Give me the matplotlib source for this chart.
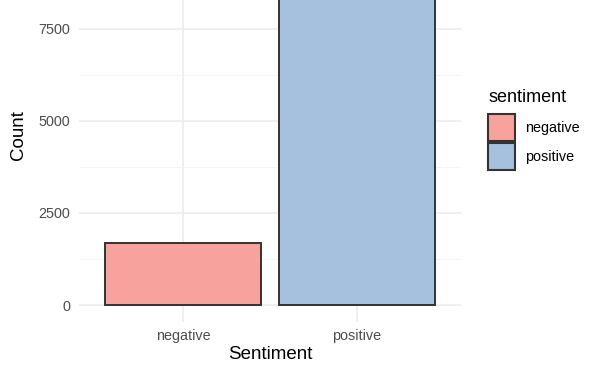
import numpy as np
import matplotlib.pyplot as plt
from matplotlib.patches import Patch

plt.rcParams['font.family'] = ['Liberation Sans', 'DejaVu Sans']

# Datos del gráfico
categorias = ['negative', 'positive']
conteos = [1690, 9240]
colores = ['#F7A29D', '#A6C1DD']
y_ticks = [0, 2500, 5000, 7500]
y_minor = [1250, 3750, 6250, 8750]

fig = plt.figure(figsize=(6, 3.75), dpi=100)
# el panel se sale por arriba (imagen recortada)
ax = fig.add_axes([0.131, 0.1413, 0.638, 0.9977])

x = np.arange(1, len(categorias) + 1)
ax.bar(x, conteos, width=0.9, color=colores, edgecolor='#333333', linewidth=1.4, zorder=3)

ax.set_xlim(0.4, 2.6)
ax.set_ylim(-0.05 * max(conteos), 1.05 * max(conteos))

# Cuadrícula estilo theme_minimal
ax.set_yticks(y_ticks)
ax.set_yticks(y_minor, minor=True)
ax.set_xticks(x)
ax.set_xticklabels(categorias)
ax.grid(True, which='major', color='#EBEBEB', linewidth=1.1, zorder=0)
ax.grid(True, which='minor', axis='y', color='#F2F2F2', linewidth=0.6, zorder=0)
for s in ax.spines.values():
    s.set_visible(False)
ax.tick_params(which='both', length=0, colors='#4D4D4D', labelsize=10.4)
ax.tick_params(axis='x', pad=5)
ax.tick_params(axis='y', pad=6)

ax.set_xlabel('Sentiment', fontsize=13.5, color='black', labelpad=2)
ax.set_ylabel('Count', fontsize=13.5, color='black', labelpad=8)

# Leyenda (título aparte para controlar el espacio)
fig.text(0.815, 0.728, 'sentiment', fontsize=13, color='black', ha='left', va='baseline')
handles = [Patch(facecolor=c, edgecolor='#333333', linewidth=1.5) for c in colores]
leg = ax.legend(handles, categorias, loc='upper left',
                bbox_to_anchor=(0.813, 0.697), bbox_transform=fig.transFigure,
                frameon=False, fontsize=10.4,
                handlelength=1.85, handleheight=2.55, labelspacing=0.12,
                handletextpad=0.7, borderaxespad=0, borderpad=0)

fig.savefig('out.png', dpi=100)
